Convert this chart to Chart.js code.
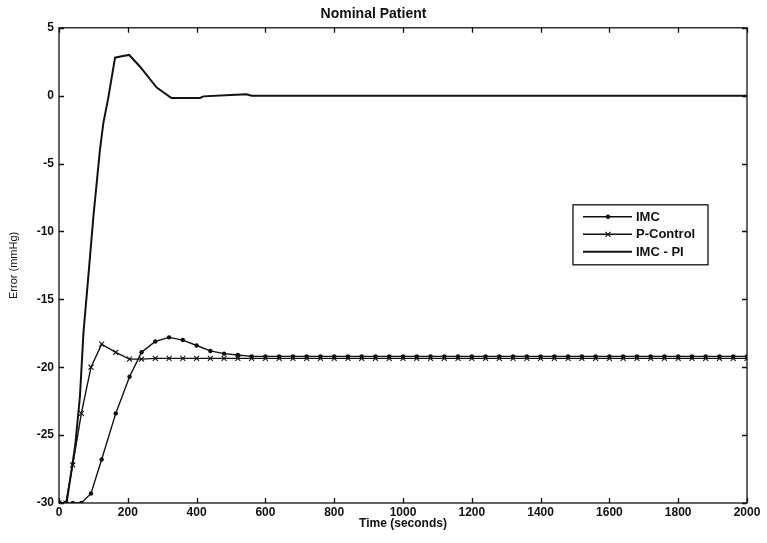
<!DOCTYPE html>
<html>
<head>
<meta charset="utf-8">
<title>Nominal Patient</title>
<script src="https://cdn.jsdelivr.net/npm/chart.js"></script>
<style>
  html, body { margin: 0; padding: 0; background: #fff; }
  #wrap { width: 767px; height: 543px; }
</style>
</head>
<body>
<div id="wrap"><canvas id="errChart" width="767" height="543"></canvas></div>
<script>
// time samples (seconds) for the two marked series
const timeMarked = [0, 20, 40, 65, 93, 124, 165, 205, 240, 280, 320, 360, 400, 440, 480, 520, 560, 600,
  640, 680, 720, 760, 800, 840, 880, 920, 960, 1000, 1040, 1080, 1120, 1160, 1200, 1240, 1280, 1320,
  1360, 1400, 1440, 1480, 1520, 1560, 1600, 1640, 1680, 1720, 1760, 1800, 1840, 1880, 1920, 1960, 2000];

// error (mmHg)
const imcValues = [-30, -30, -30, -30, -29.3, -26.8, -23.4, -20.7, -18.9, -18.1, -17.8, -18.0, -18.4, -18.8, -19.0, -19.1, -19.2, -19.2,
  -19.2, -19.2, -19.2, -19.2, -19.2, -19.2, -19.2, -19.2, -19.2, -19.2, -19.2, -19.2, -19.2, -19.2, -19.2, -19.2, -19.2, -19.2,
  -19.2, -19.2, -19.2, -19.2, -19.2, -19.2, -19.2, -19.2, -19.2, -19.2, -19.2, -19.2, -19.2, -19.2, -19.2, -19.2, -19.2];

const pControlValues = [-30, -30, -27.2, -23.4, -20.0, -18.3, -18.9, -19.4, -19.4, -19.35, -19.35, -19.35, -19.35, -19.35, -19.35, -19.35, -19.35, -19.35,
  -19.35, -19.35, -19.35, -19.35, -19.35, -19.35, -19.35, -19.35, -19.35, -19.35, -19.35, -19.35, -19.35, -19.35, -19.35, -19.35, -19.35, -19.35,
  -19.35, -19.35, -19.35, -19.35, -19.35, -19.35, -19.35, -19.35, -19.35, -19.35, -19.35, -19.35, -19.35, -19.35, -19.35, -19.35, -19.35];

// IMC - PI has no markers, read at its bends
const timePI = [0, 22, 47, 61, 71, 88, 100, 119, 129, 143, 163, 182, 204, 235, 284, 327, 410, 420, 500, 545, 560, 2000];
const imcPiValues = [-30, -30, -25.8, -22.1, -17.5, -12.5, -8.9, -4.0, -2.0, -0.2, 2.8, 2.9, 3.0, 2.15, 0.6, -0.17, -0.17, -0.05, 0.05, 0.1, 0, 0];

const xTicks = [0, 200, 400, 600, 800, 1000, 1200, 1400, 1600, 1800, 2000];
const yTicks = [5, 0, -5, -10, -15, -20, -25, -30];
const seriesNames = ['IMC', 'P-Control', 'IMC - PI'];

const ink = '#111';
const fontFam = '"Liberation Sans", Arial, sans-serif';

function pairs(xs, ys) {
  return xs.map((x, i) => ({ x: x, y: ys[i] }));
}

// frame with inward ticks on all four sides (matlab look)
const frameTicks = {
  id: 'frameTicks',
  afterDatasetsDraw(chart) {
    const { ctx, chartArea: a, scales } = chart;
    const len = 5;
    ctx.save();
    ctx.strokeStyle = ink;
    ctx.lineWidth = 1.3;
    ctx.strokeRect(a.left, a.top, a.right - a.left, a.bottom - a.top);
    ctx.beginPath();
    xTicks.forEach((v) => {
      const px = Math.round(scales.x.getPixelForValue(v)) + 0.5;
      ctx.moveTo(px, a.bottom); ctx.lineTo(px, a.bottom - len);
      ctx.moveTo(px, a.top); ctx.lineTo(px, a.top + len);
    });
    yTicks.forEach((v) => {
      const py = Math.round(scales.y.getPixelForValue(v)) + 0.5;
      ctx.moveTo(a.left, py); ctx.lineTo(a.left + len, py);
      ctx.moveTo(a.right, py); ctx.lineTo(a.right - len, py);
    });
    ctx.stroke();
    ctx.restore();
  }
};

// boxed legend inside the plot, right side
const boxLegend = {
  id: 'boxLegend',
  afterDraw(chart) {
    const { ctx, chartArea: a } = chart;
    const bx = a.right - 174, by = a.top + 177, bw = 135, bh = 60;
    ctx.save();
    ctx.fillStyle = '#fff';
    ctx.fillRect(bx, by, bw, bh);
    ctx.strokeStyle = ink;
    ctx.lineWidth = 1.3;
    ctx.strokeRect(bx, by, bw, bh);
    ctx.font = 'bold 13px ' + fontFam;
    ctx.textBaseline = 'middle';
    chart.data.datasets.forEach((ds, i) => {
      const y = by + 12 + i * 17.5;
      ctx.strokeStyle = ink;
      ctx.lineWidth = ds.borderWidth;
      ctx.beginPath();
      ctx.moveTo(bx + 10, y); ctx.lineTo(bx + 59, y);
      ctx.stroke();
      const mx = bx + 35;
      if (ds.pointStyle === 'circle') {
        ctx.fillStyle = ink;
        ctx.beginPath(); ctx.arc(mx, y, 2.2, 0, Math.PI * 2); ctx.fill();
      } else if (ds.pointStyle === 'crossRot') {
        ctx.lineWidth = 1.1;
        ctx.beginPath();
        ctx.moveTo(mx - 2.5, y - 2.5); ctx.lineTo(mx + 2.5, y + 2.5);
        ctx.moveTo(mx + 2.5, y - 2.5); ctx.lineTo(mx - 2.5, y + 2.5);
        ctx.stroke();
      }
      ctx.fillStyle = ink;
      ctx.fillText(ds.label, bx + 63, y + 0.5);
    });
    ctx.restore();
  }
};

new Chart(document.getElementById('errChart'), {
  type: 'line',
  data: {
    datasets: [
      {
        label: seriesNames[0],
        data: pairs(timeMarked, imcValues),
        borderColor: ink,
        backgroundColor: ink,
        borderWidth: 1.4,
        pointStyle: 'circle',
        pointRadius: 2.2,
        pointBorderWidth: 0,
        tension: 0
      },
      {
        label: seriesNames[1],
        data: pairs(timeMarked, pControlValues),
        borderColor: ink,
        backgroundColor: ink,
        borderWidth: 1.4,
        pointStyle: 'crossRot',
        pointRadius: 3.5,
        pointBorderWidth: 1.1,
        tension: 0
      },
      {
        label: seriesNames[2],
        data: pairs(timePI, imcPiValues),
        borderColor: ink,
        backgroundColor: ink,
        borderWidth: 2,
        pointRadius: 0,
        tension: 0
      }
    ]
  },
  options: {
    responsive: false,
    animation: false,
    layout: { padding: { left: 0, right: 20, top: 0, bottom: 0 } },
    plugins: {
      legend: { display: false },
      tooltip: { enabled: false },
      title: {
        display: true,
        text: 'Nominal Patient',
        color: ink,
        font: { family: fontFam, size: 14, weight: 'bold' },
        padding: { top: 6, bottom: 5 }
      }
    },
    scales: {
      x: {
        type: 'linear',
        min: 0,
        max: 2000,
        afterFit: (s) => { s.height = 40; },
        afterBuildTicks: (s) => { s.ticks = xTicks.map((v) => ({ value: v })); },
        grid: { drawOnChartArea: false, drawTicks: false },
        border: { display: false },
        ticks: {
          color: ink,
          padding: 2,
          maxRotation: 0,
          callback: (v) => String(v),
          font: { family: fontFam, size: 12, weight: 'bold' }
        },
        title: {
          display: true,
          text: 'Time (seconds)',
          color: ink,
          padding: { top: 0, bottom: 12 },
          font: { family: fontFam, size: 12, weight: 'bold' }
        }
      },
      y: {
        type: 'linear',
        min: -30,
        max: 5,
        afterFit: (s) => { s.width = 59; },
        afterBuildTicks: (s) => { s.ticks = yTicks.map((v) => ({ value: v })); },
        grid: { drawOnChartArea: false, drawTicks: false },
        border: { display: false },
        ticks: {
          color: ink,
          padding: 5,
          callback: (v) => String(v),
          font: { family: fontFam, size: 12, weight: 'bold' }
        },
        title: {
          display: true,
          text: 'Error (mmHg)',
          color: ink,
          padding: { top: 7, bottom: 0 },
          font: { family: fontFam, size: 11 }
        }
      }
    }
  },
  plugins: [frameTicks, boxLegend]
});
</script>
</body>
</html>
